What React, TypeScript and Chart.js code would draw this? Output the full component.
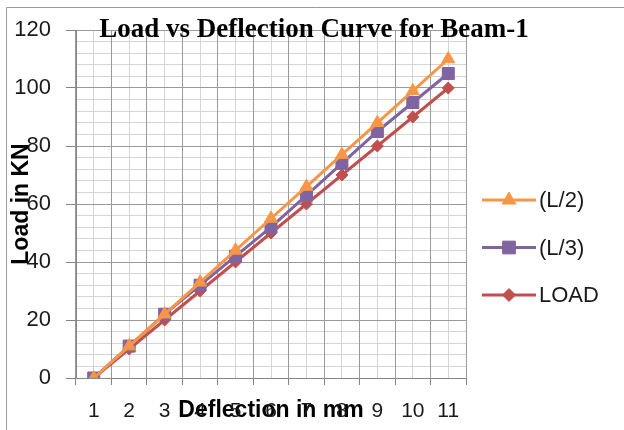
import React, { useEffect, useRef } from "react";
import { Chart, registerables } from "chart.js";
import { drawPoint } from "chart.js/helpers";

Chart.register(...registerables);

const categories = ["1", "2", "3", "4", "5", "6", "7", "8", "9", "10", "11"];
const seriesL2 = [0, 11, 22, 33, 44, 55, 66, 77, 88, 99, 110];
const seriesL3 = [0, 11, 22, 32, 42, 52, 63, 74, 85, 95, 105];
const seriesLoad = [0, 10, 20, 30, 40, 50, 60, 70, 80, 90, 100];
const seriesNames = ["(L/2)", "(L/3)", "LOAD"];
const chartTitle = "Load vs Deflection Curve for Beam-1";
const xTitle = "Deflection in mm";
const yTitle = "Load in KN";

const ORANGE = "#F79646";
const PURPLE = "#8064A2";
const RED = "#C0504D";
const MAJOR = "#9a9a9a";
const MINOR = "#d4d4d4";
const AXIS = "#868686";

const decorPlugin = {
  id: "decor",
  beforeDraw(chart: any) {
    const ctx = chart.ctx;
    ctx.save();
    ctx.strokeStyle = "#9a9a9a";
    ctx.lineWidth = 1;
    ctx.beginPath();
    ctx.moveTo(6.5, 440);
    ctx.lineTo(6.5, 7.5);
    ctx.lineTo(640, 7.5);
    ctx.stroke();
    ctx.restore();
  },
  afterDraw(chart: any) {
    const ctx = chart.ctx;
    ctx.save();
    // title
    ctx.fillStyle = "#000";
    ctx.font = "bold 27px 'Liberation Serif', serif";
    ctx.textAlign = "center";
    ctx.textBaseline = "middle";
    ctx.fillText(chartTitle, 314, 30);
    // legend
    const ds = chart.data.datasets;
    ds.forEach((d: any, i: number) => {
      const y = 200 + i * 47.5;
      ctx.strokeStyle = d.borderColor;
      ctx.lineWidth = 3;
      ctx.beginPath();
      ctx.moveTo(482, y);
      ctx.lineTo(536, y);
      ctx.stroke();
      ctx.fillStyle = d.pointBackgroundColor;
      ctx.strokeStyle = d.pointBorderColor;
      ctx.lineWidth = 1;
      drawPoint(ctx, { pointStyle: d.pointStyle, rotation: 0, radius: d.pointRadius + 0.5, borderWidth: 1 }, 509, y);
      ctx.fillStyle = "#1a1a1a";
      ctx.font = "22px 'Liberation Sans', sans-serif";
      ctx.textAlign = "left";
      ctx.textBaseline = "middle";
      ctx.fillText(d.label, 539, y + 1);
    });
    ctx.restore();
  },
};

export default function App() {
  const ref = useRef<HTMLCanvasElement | null>(null);
  useEffect(() => {
    if (!ref.current) return;
    const mk = (label: string, data: number[], color: string, style: string, r: number) => ({
      label,
      data,
      borderColor: color,
      backgroundColor: color,
      pointBackgroundColor: color,
      pointBorderColor: color,
      pointStyle: style,
      pointRadius: r,
      pointBorderWidth: 1,
      borderWidth: 3,
      tension: 0,
    });
    const chart = new Chart(ref.current, {
      type: "line",
      data: {
        labels: categories,
        datasets: [
          mk(seriesNames[0], seriesL2, ORANGE, "triangle", 7.5),
          mk(seriesNames[1], seriesL3, PURPLE, "rect", 8.5),
          mk(seriesNames[2], seriesLoad, RED, "rectRot", 6),
        ] as any,
      },
      options: {
        animation: false,
        responsive: false,
        devicePixelRatio: 1,
        layout: { padding: { left: 8, top: 30, right: 158, bottom: 6 } },
        plugins: { legend: { display: false }, title: { display: false }, tooltip: { enabled: false } },
        scales: {
          xMinor: {
            type: "category",
            position: "bottom",
            offset: true,
            grid: { offset: false, color: MINOR, drawTicks: false },
            border: { display: false },
            ticks: { display: false },
            afterFit: (s: any) => { s.height = 0; },
          },
          yMinor: {
            type: "linear",
            position: "left",
            min: 0,
            max: 120,
            grid: { color: MINOR, drawTicks: false },
            border: { display: false },
            ticks: { display: false, stepSize: 4 },
            afterFit: (s: any) => { s.width = 0; },
          },
          x: {
            type: "category",
            position: "bottom",
            offset: true,
            grid: { offset: true, color: MAJOR, tickColor: AXIS, tickLength: 7 },
            border: { color: AXIS, width: 1 },
            ticks: { color: "#1a1a1a", font: { family: "'Liberation Sans', sans-serif", size: 21 }, padding: 14, maxRotation: 0, autoSkip: false },
            title: { display: true, text: xTitle, color: "#000", font: { family: "'Liberation Sans', sans-serif", size: 23, weight: "bold" }, padding: 0 },
            afterFit: (s: any) => { s.height = 46; },
          },
          y: {
            type: "linear",
            position: "left",
            min: 0,
            max: 120,
            grid: { color: MAJOR, tickColor: AXIS, tickLength: 10 },
            border: { color: AXIS, width: 1 },
            ticks: { stepSize: 20, color: "#1a1a1a", font: { family: "'Liberation Sans', sans-serif", size: 22 }, padding: 15 },
            title: { display: true, text: yTitle, color: "#000", font: { family: "'Liberation Sans', sans-serif", size: 23, weight: "bold" }, padding: 0 },
            afterFit: (s: any) => { s.width = 68; },
          },
        },
      } as any,
      plugins: [decorPlugin],
    });
    return () => chart.destroy();
  }, []);
  return (
    <div style={{ position: "fixed", left: 0, top: 0, width: 624, height: 430, background: "#fff" }}>
      <canvas ref={ref} width={624} height={430} style={{ width: 624, height: 430, display: "block" }} />
    </div>
  );
}
